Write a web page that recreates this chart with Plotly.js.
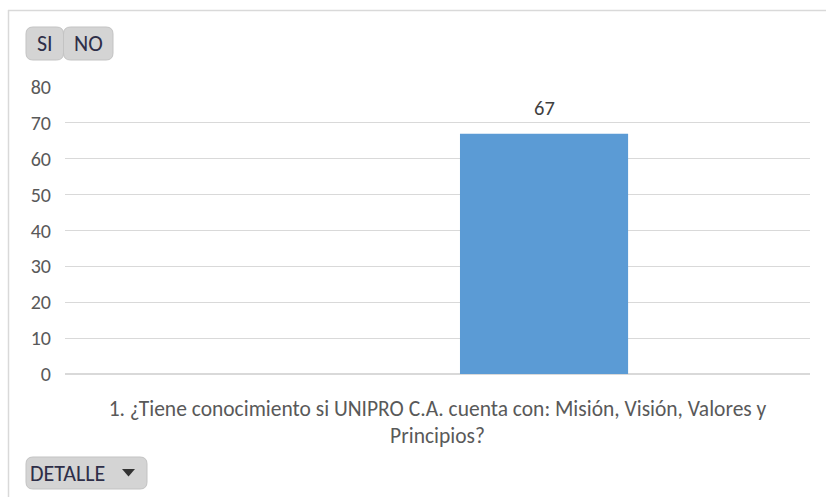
<!DOCTYPE html>
<html>
<head>
<meta charset="utf-8">
<script src="https://cdn.plot.ly/plotly-3.0.1.min.js"></script>
<style>html,body{margin:0;padding:0;background:#fff;}#chart{width:826px;height:497px;}</style>
</head>
<body>
<div id="chart"></div>
<script>
const categories = ["1. ¿Tiene conocimiento si UNIPRO C.A. cuenta con: Misión, Visión, Valores y<br>Principios?"];
const seriesNames = ["SI", "NO"];
const siValues = [null];
const noValues = [67];
const yTicks = [0, 10, 20, 30, 40, 50, 60, 70, 80];
const filterButtons = ["SI", "NO"];
const detailButton = "DETALLE";

const FONT = "Carlito, Calibri, 'Open Sans', sans-serif";
const W = 826, H = 497;
const M = {l: 65, r: 16, t: 87, b: 123};
const pw = W - M.l - M.r, ph = H - M.t - M.b;
const px = x => (x - M.l) / pw;
const py = y => (H - M.b - y) / ph;

function roundRect(x0, y0, x1, y1, r) {
  const p = (x, y) => px(x) + ',' + py(y);
  return 'M' + p(x0 + r, y0) + ' L' + p(x1 - r, y0) + ' Q' + p(x1, y0) + ' ' + p(x1, y0 + r) +
    ' L' + p(x1, y1 - r) + ' Q' + p(x1, y1) + ' ' + p(x1 - r, y1) +
    ' L' + p(x0 + r, y1) + ' Q' + p(x0, y1) + ' ' + p(x0, y1 - r) +
    ' L' + p(x0, y0 + r) + ' Q' + p(x0, y0) + ' ' + p(x0 + r, y0) + ' Z';
}

const shapes = [];
const annotations = [];
// chart border
shapes.push({type: 'line', xref: 'paper', yref: 'paper', x0: px(8), x1: px(826), y0: py(10.5), y1: py(10.5), line: {color: '#d9d9d9', width: 1.5}});
shapes.push({type: 'line', xref: 'paper', yref: 'paper', x0: px(8.5), x1: px(8.5), y0: py(10), y1: py(497), line: {color: '#d9d9d9', width: 1.5}});

// filter buttons
const btnDefs = [{x0: 26, x1: 63.5}, {x0: 63.5, x1: 113}];
filterButtons.forEach((t, i) => {
  const b = btnDefs[i];
  shapes.push({type: 'path', xref: 'paper', yref: 'paper', path: roundRect(b.x0, 27, b.x1, 60, 7), fillcolor: '#d4d4d4', line: {color: '#c3c3c3', width: 1}});
  annotations.push({xref: 'paper', yref: 'paper', x: px((b.x0 + b.x1) / 2), y: py(43.5), text: t, showarrow: false, font: {family: FONT, size: 22, color: '#2e2e48'}, xanchor: 'center', yanchor: 'middle'});
});
// detail button
shapes.push({type: 'path', xref: 'paper', yref: 'paper', path: roundRect(26, 457, 147, 489, 7), fillcolor: '#d4d4d4', line: {color: '#c3c3c3', width: 1}});
annotations.push({xref: 'paper', yref: 'paper', x: px(28), y: py(473), text: detailButton, showarrow: false, font: {family: FONT, size: 22, color: '#2e2e48'}, xanchor: 'left', yanchor: 'middle'});
shapes.push({type: 'path', xref: 'paper', yref: 'paper', path: 'M' + px(122) + ',' + py(469) + ' L' + px(135) + ',' + py(469) + ' L' + px(128.5) + ',' + py(476.5) + ' Z', fillcolor: '#333', line: {width: 0}});

// data labels from the series values
noValues.forEach((v, i) => {
  if (v == null) return;
  annotations.push({x: categories[i], y: v, xref: 'x', yref: 'y', xshift: 106.5, yshift: 11, text: String(v), showarrow: false, yanchor: 'bottom', xanchor: 'center', font: {family: FONT, size: 20.5, color: '#404040'}});
});

const traces = [
  {type: 'bar', name: seriesNames[0], x: categories, y: siValues, marker: {color: '#ed7d31'}},
  {type: 'bar', name: seriesNames[1], x: categories, y: noValues, marker: {color: '#5b9bd5'}}
];

const layout = {
  width: W, height: H,
  margin: M,
  paper_bgcolor: '#fff', plot_bgcolor: '#fff',
  showlegend: false,
  barmode: 'group',
  bargap: 0.428,
  bargroupgap: 0.211,
  font: {family: FONT, color: '#595959'},
  xaxis: {type: 'category', range: [-0.5, 0.5], showgrid: false, showline: false, zeroline: false, ticks: '', tickfont: {family: FONT, size: 21.5, color: '#595959'}, ticklabelstandoff: 19, fixedrange: true},
  yaxis: {range: [0, 80], tickvals: yTicks, ticktext: yTicks.map(String), showgrid: true, gridcolor: '#d9d9d9', gridwidth: 1, zeroline: true, zerolinecolor: '#d9d9d9', zerolinewidth: 1.5, showline: false, ticks: '', tickfont: {family: FONT, size: 20, color: '#595959'}, ticklabelstandoff: 13, fixedrange: true},
  shapes: shapes,
  annotations: annotations
};

Plotly.newPlot('chart', traces, layout, {displayModeBar: false, staticPlot: true});
</script>
</body>
</html>
